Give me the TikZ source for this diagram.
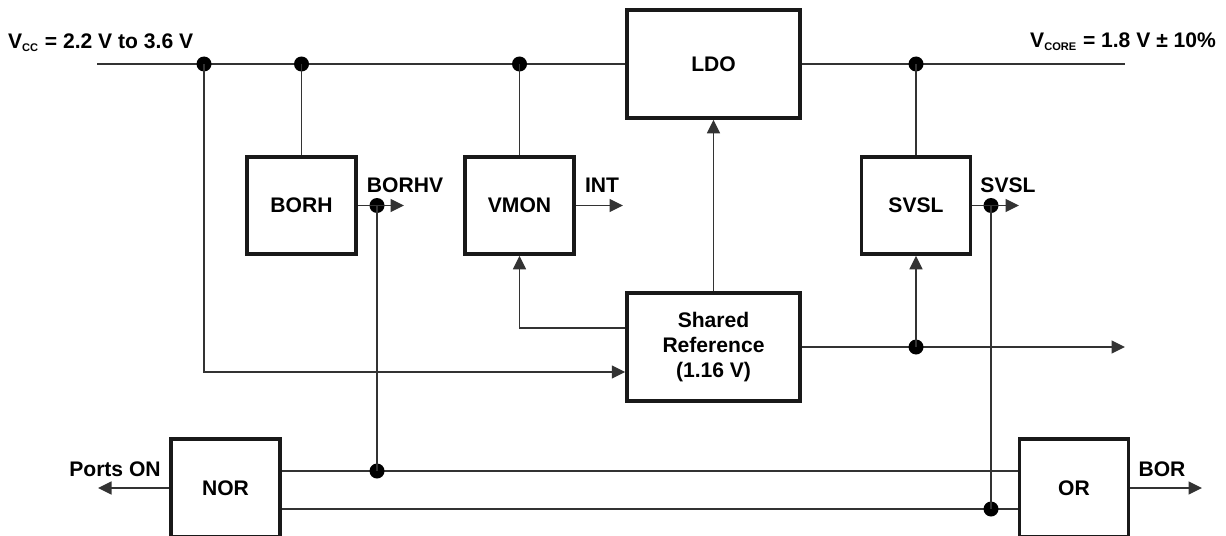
\documentclass[tikz,border=0pt]{standalone}
\usepackage{fontspec}
\setmainfont{Liberation Sans}
\usetikzlibrary{arrows.meta}

\tikzset{
  block/.style={draw=black!90, line width=2pt, align=center, inner sep=0pt},
  wire/.style={draw=black!80, line width=0.75pt},
  sig/.style={wire, -{Triangle[length=0.27cm,width=0.26cm]}},
  dot/.style={circle, fill=black, inner sep=0pt, minimum size=0.3cm},
  lbl/.style={inner sep=1pt}
}

\begin{document}
\begin{tikzpicture}[font=\fontsize{12}{14.2}\selectfont\bfseries]
  \useasboundingbox (0,0) rectangle (24.52,10.7);

  % blocks
  \node[block, minimum width=3.46cm, minimum height=2.16cm] (ldo) at (14.27,9.42) {LDO};
  \node[block, minimum width=3.46cm, minimum height=2.16cm] (ref) at (14.27,3.76) {Shared\\Reference\\(1.16 V)};
  \node[block, minimum width=2.18cm, minimum height=1.94cm] (borh) at (6.03,6.59) {BORH};
  \node[block, minimum width=2.18cm, minimum height=1.94cm] (vmon) at (10.39,6.59) {VMON};
  \node[block, minimum width=2.18cm, minimum height=1.94cm] (svsl) at (18.32,6.59) {SVSL};
  \node[block, minimum width=2.18cm, minimum height=1.96cm] (nor) at (4.51,0.94) {NOR};
  \node[block, minimum width=2.18cm, minimum height=1.96cm] (or) at (21.48,0.94) {OR};

  % supply rails
  \coordinate (vin) at (1.94,9.42);
  \coordinate (vout) at (22.5,9.42);
  \draw[wire] (vin) -- (ldo.west);
  \draw[wire] (ldo.east) -- (vout);
  \node[lbl, anchor=west] (vcc) at (0.12,9.84) {V\textsubscript{\fontsize{6.3}{7}\selectfont CC} = 2.2 V to 3.6 V};
  \node[lbl, anchor=east] (vcore) at (24.36,9.86) {V\textsubscript{\fontsize{6.3}{7}\selectfont CORE} = 1.8 V ± 10\%};

  \node[dot] (d1) at (4.08,9.42) {};
  \node[dot] (d2) at (borh.north |- vin) {};
  \node[dot] (d3) at (vmon.north |- vin) {};
  \node[dot] (d4) at (svsl.north |- vin) {};
  \draw[wire] (d2.center) -- (borh.north);
  \draw[wire] (d3.center) -- (vmon.north);
  \draw[wire] (d4.center) -- (svsl.north);

  % monitor outputs
  \node[dot] (d5) at (7.54,6.59) {};
  \coordinate (borhv) at (8.08,6.59);
  \draw[wire] (borh.east) -- (d5.center);
  \draw[sig] (d5.center) -- (borhv);
  \node[lbl] (borhvl) at (8.1,7.0) {BORHV};

  \coordinate (int) at (12.46,6.59);
  \draw[sig] (vmon.east) -- (int);
  \node[lbl] (intl) at (12.04,7.0) {INT};

  \node[dot] (d8) at (19.82,6.59) {};
  \coordinate (svslo) at (20.38,6.59);
  \draw[wire] (svsl.east) -- (d8.center);
  \draw[sig] (d8.center) -- (svslo);
  \node[lbl] (svsll) at (20.16,7.0) {SVSL};

  % shared reference
  \draw[sig] (d1.center) |- ([yshift=-0.5cm]ref.west);
  \draw[sig] ([yshift=0.38cm]ref.west) -| (vmon.south);
  \draw[sig] (ref.north) -- (ldo.south);
  \coordinate (refout) at (22.5,3.76);
  \draw[sig] (ref.east) -- (refout);
  \node[dot] (d6) at (svsl.south |- ref.east) {};
  \draw[sig] (d6.center) -- (svsl.south);

  % gates
  \coordinate (nu) at ([yshift=0.34cm]nor.east);
  \coordinate (nl) at ([yshift=-0.42cm]nor.east);
  \draw[wire] (nu) -- (nu -| or.west);
  \draw[wire] (nl) -- (nl -| or.west);
  \node[dot] (d7) at (d5 |- nu) {};
  \node[dot] (d9) at (d8 |- nl) {};
  \draw[wire] (d5.center) -- (d7.center);
  \draw[wire] (d8.center) -- (d9.center);

  \coordinate (ports) at (1.96,0.94);
  \draw[sig] (nor.west) -- (ports);
  \node[lbl] (portsl) at (2.3,1.32) {Ports ON};

  \coordinate (bor) at (24.04,0.94);
  \draw[sig] (or.east) -- (bor);
  \node[lbl] (borl) at (23.24,1.32) {BOR};
\end{tikzpicture}
\end{document}
